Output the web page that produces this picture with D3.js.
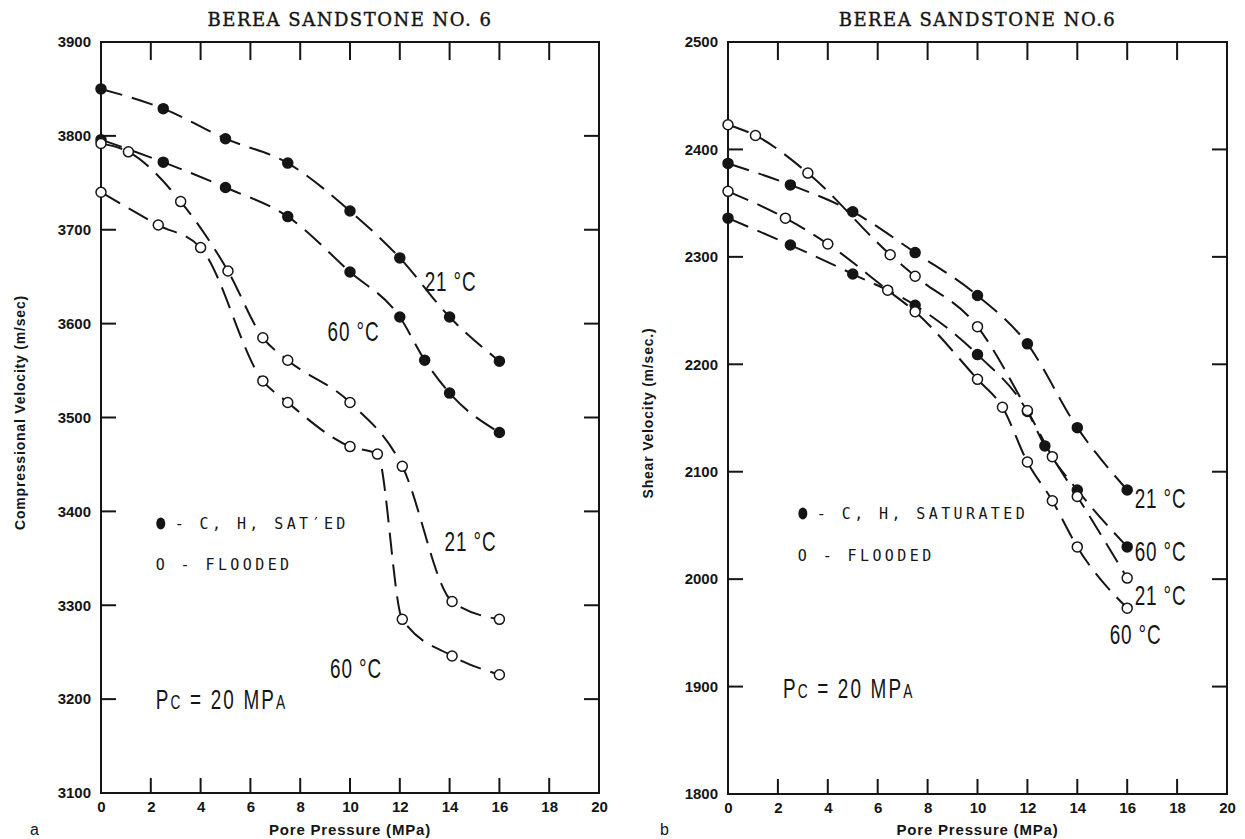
<!DOCTYPE html>
<html><head><meta charset="utf-8">
<script src="https://cdn.jsdelivr.net/npm/d3@7"></script>
<style>
body{margin:0;background:#fff;}
svg{display:block;}
</style></head>
<body>
<svg id="chart" width="1245" height="839"></svg>
<script>
// ---------- data ----------
const xTicks = [0,2,4,6,8,10,12,14,16,18,20];
const leftYTicks = [3100,3200,3300,3400,3500,3600,3700,3800,3900];
const rightYTicks = [1800,1900,2000,2100,2200,2300,2400,2500];

// Panel a: compressional velocity
const aSat21X = [0,2.5,5,7.5,10,12,14,16];
const aSat21Y = [3850,3829,3797,3771,3720,3670,3607,3560];
const aSat60X = [0,2.5,5,7.5,10,12,13,14,16];
const aSat60Y = [3796,3772,3745,3714,3655,3607,3561,3526,3484];
const aFld21X = [0,1.1,3.2,5.1,6.5,7.5,10,12.1,14.1,16];
const aFld21Y = [3792,3783,3730,3656,3585,3561,3516,3448,3304,3285];
const aFld60X = [0,2.3,4,6.5,7.5,10,11.1,12.1,14.1,16];
const aFld60Y = [3740,3705,3681,3539,3516,3469,3461,3285,3246,3226];

// Panel b: shear velocity
const bSat21X = [0,2.5,5,7.5,10,12,14,16];
const bSat21Y = [2387,2367,2342,2304,2264,2219,2141,2083];
const bSat60X = [0,2.5,5,7.5,10,12,12.7,14,16];
const bSat60Y = [2336,2311,2284,2255,2209,2156,2124,2083,2030];
const bFld21X = [0,1.1,3.2,6.5,7.5,10,12,13,14,16];
const bFld21Y = [2423,2413,2378,2302,2282,2235,2157,2114,2077,2001];
const bFld60X = [0,2.3,4,6.4,7.5,10,11,12,13,14,16];
const bFld60Y = [2361,2336,2312,2269,2249,2186,2160,2109,2073,2030,1973];

const zip = (xs, ys) => xs.map((x,i)=>({x, y: ys[i]}));

const svg = d3.select('#chart');
const ink = '#151515';
const tickFont = '"Liberation Sans", Arial, sans-serif';
const narrowFont = '"Liberation Sans", "DejaVu Sans", sans-serif';
const monoFont = '"DejaVu Sans Mono", "Liberation Mono", monospace';
const serifFont = '"DejaVu Serif", "Liberation Serif", serif';

function narrowText(g, px, py, size, spacing){
  // tall, condensed lettering like the original plotter font
  return g.append('text')
    .attr('transform',`translate(${px},${py}) scale(0.86,1.22)`)
    .attr('dy','0.35em').attr('letter-spacing',spacing)
    .attr('font-family',narrowFont).attr('font-size',size).attr('fill',ink);
}

function panel(cfg){
  const g = svg.append('g');
  const x = d3.scaleLinear().domain([0,20]).range([cfg.left, cfg.right]);
  const y = d3.scaleLinear().domain(cfg.yDomain).range([cfg.bottom, cfg.top]);
  const tl = 15;

  // frame
  g.append('rect').attr('x', cfg.left).attr('y', cfg.top)
    .attr('width', cfg.right-cfg.left).attr('height', cfg.bottom-cfg.top)
    .attr('fill','none').attr('stroke',ink).attr('stroke-width',2);

  const inner = xTicks.slice(1,-1);
  const yInner = cfg.yTicks.slice(1,-1);

  // bottom axis (ticks drawn inward separately)
  const bottom = g.append('g').attr('transform',`translate(0,${cfg.bottom})`)
    .call(d3.axisBottom(x).tickValues(xTicks).tickSize(0).tickPadding(8).tickFormat(d3.format('d')));
  bottom.select('.domain').remove();
  bottom.selectAll('text').attr('font-family',tickFont).attr('font-weight','bold')
    .attr('font-size',15).attr('fill',ink);
  g.append('g').selectAll('line').data(inner).join('line')
    .attr('x1',d=>x(d)).attr('x2',d=>x(d)).attr('y1',cfg.bottom).attr('y2',cfg.bottom-tl)
    .attr('stroke',ink).attr('stroke-width',2);
  // top ticks
  g.append('g').selectAll('line').data(inner).join('line')
    .attr('x1',d=>x(d)).attr('x2',d=>x(d)).attr('y1',cfg.top).attr('y2',cfg.top+tl+3)
    .attr('stroke',ink).attr('stroke-width',2);

  // left axis
  const left = g.append('g').attr('transform',`translate(${cfg.left},0)`)
    .call(d3.axisLeft(y).tickValues(cfg.yTicks).tickSize(0).tickPadding(10).tickFormat(d3.format('d')));
  left.select('.domain').remove();
  left.selectAll('text').attr('font-family',tickFont).attr('font-weight','bold')
    .attr('font-size',15).attr('fill',ink);
  g.append('g').selectAll('line').data(yInner).join('line')
    .attr('x1',cfg.left).attr('x2',cfg.left+tl).attr('y1',d=>y(d)).attr('y2',d=>y(d))
    .attr('stroke',ink).attr('stroke-width',2);
  g.append('g').selectAll('line').data(yInner).join('line')
    .attr('x1',cfg.right).attr('x2',cfg.right-tl).attr('y1',d=>y(d)).attr('y2',d=>y(d))
    .attr('stroke',ink).attr('stroke-width',2);

  // series
  const line = d3.line().x(d=>x(d.x)).y(d=>y(d.y)).curve(d3.curveMonotoneX);
  cfg.series.forEach(s=>{
    const pts = zip(s.xs, s.ys);
    g.append('path').datum(pts).attr('d',line).attr('fill','none')
      .attr('stroke',ink).attr('stroke-width',2).attr('stroke-dasharray','22,10');
    g.append('g').selectAll('circle').data(pts).join('circle')
      .attr('cx',d=>x(d.x)).attr('cy',d=>y(d.y)).attr('r',5)
      .attr('fill', s.filled ? ink : '#fff').attr('stroke',ink).attr('stroke-width',1.5);
  });

  // temperature labels
  cfg.labels.forEach(l=>{
    narrowText(g, x(l.x), y(l.y), 22, 1).text(l.t);
  });

  // legend
  const lg = cfg.legend;
  g.append('ellipse').attr('cx',x(lg.x)).attr('cy',y(lg.y1)).attr('rx',4.5).attr('ry',6).attr('fill',ink);
  g.append('text').attr('x',x(lg.x)+14).attr('y',y(lg.y1)).attr('dy','0.35em')
    .attr('font-family',monoFont).attr('font-size',15).attr('letter-spacing',3.4).attr('fill',ink)
    .text(lg.t1);
  g.append('text').attr('x',x(lg.x)-5).attr('y',y(lg.y2)).attr('dy','0.35em')
    .attr('font-family',monoFont).attr('font-size',15).attr('letter-spacing',3.4).attr('fill',ink)
    .text('O - FLOODED');

  // Pc label
  const pc = narrowText(g, x(cfg.pc.x), y(cfg.pc.y), 22, 2.5);
  pc.append('tspan').text('P');
  pc.append('tspan').attr('font-size',16).text('C');
  pc.append('tspan').text(' = 20 MP');
  pc.append('tspan').attr('font-size',16).text('A');

  // titles
  g.append('text').attr('x',(cfg.left+cfg.right)/2).attr('y',26).attr('text-anchor','middle')
    .attr('font-family',serifFont).attr('font-size',18).attr('letter-spacing',1.5)
    .attr('fill',ink).attr('stroke',ink).attr('stroke-width',0.4)
    .text(cfg.title);
  g.append('text').attr('x',(cfg.left+cfg.right)/2).attr('y',835).attr('text-anchor','middle')
    .attr('font-family',tickFont).attr('font-weight','bold').attr('font-size',15).attr('letter-spacing',0.8).attr('fill',ink)
    .text('Pore Pressure (MPa)');
  g.append('text').attr('transform',`translate(${cfg.ytx},${(cfg.top+cfg.bottom)/2 - 5}) rotate(-90)`)
    .attr('text-anchor','middle').attr('dy','0.35em')
    .attr('font-family',tickFont).attr('font-weight','bold').attr('font-size',14).attr('letter-spacing',0.8).attr('fill',ink)
    .text(cfg.ytitle);
  g.append('text').attr('x',cfg.letterX).attr('y',835)
    .attr('font-family',tickFont).attr('font-size',16).attr('fill',ink).text(cfg.letter);
}

panel({
  left:101, right:599, top:42, bottom:793, yDomain:[3100,3900], yTicks:leftYTicks,
  title:'BEREA SANDSTONE NO. 6', ytitle:'Compressional Velocity (m/sec)', ytx:20,
  letter:'a', letterX:30,
  series:[
    {xs:aSat21X, ys:aSat21Y, filled:true},
    {xs:aSat60X, ys:aSat60Y, filled:true},
    {xs:aFld21X, ys:aFld21Y, filled:false},
    {xs:aFld60X, ys:aFld60Y, filled:false}
  ],
  labels:[
    {x:13.0, y:3645, t:'21 °C'},
    {x:9.1, y:3591, t:'60 °C'},
    {x:13.8, y:3368, t:'21 °C'},
    {x:9.2, y:3233, t:'60 °C'}
  ],
  legend:{x:2.4, y1:3387, y2:3343, t1:'- C, H, SAT\u2032ED'},
  pc:{x:2.2, y:3200}
});

panel({
  left:728, right:1227, top:42, bottom:794, yDomain:[1800,2500], yTicks:rightYTicks,
  title:'BEREA SANDSTONE NO.6', ytitle:'Shear Velocity (m/sec.)', ytx:648,
  letter:'b', letterX:660,
  series:[
    {xs:bSat21X, ys:bSat21Y, filled:true},
    {xs:bSat60X, ys:bSat60Y, filled:true},
    {xs:bFld21X, ys:bFld21Y, filled:false},
    {xs:bFld60X, ys:bFld60Y, filled:false}
  ],
  labels:[
    {x:16.3, y:2075, t:'21 °C'},
    {x:16.3, y:2026, t:'60 °C'},
    {x:16.3, y:1985, t:'21 °C'},
    {x:15.3, y:1948, t:'60 °C'}
  ],
  legend:{x:3.0, y1:2061, y2:2022, t1:'- C, H, SATURATED'},
  pc:{x:2.2, y:1898}
});
</script>
</body></html>
